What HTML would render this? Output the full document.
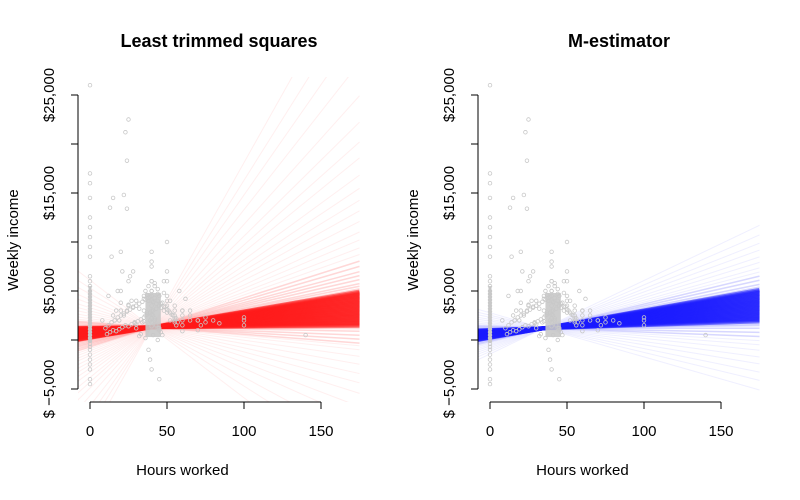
<!DOCTYPE html>
<html><head><meta charset="utf-8"><style>
body{margin:0;background:#fff}
svg{display:block;font-family:"Liberation Sans",sans-serif}
</style></head><body>
<svg id="c" width="800" height="500" viewBox="0 0 800 500">
<defs>
<clipPath id="clipL"><rect x="78" y="77" width="282" height="325"/></clipPath>
<clipPath id="clipR"><rect x="478" y="77" width="282" height="325"/></clipPath>
</defs>
<text x="219" y="47" text-anchor="middle" font-size="18" font-weight="bold">Least trimmed squares</text>
<text x="619" y="47" text-anchor="middle" font-size="18" font-weight="bold">M-estimator</text>
<g id="L"></g>
<g id="R"></g>
</svg>
<script>
const xTicks=[0,50,100,150];
const yTicks=[-5000,0,5000,10000,15000,20000,25000];
const yLabelTicks=[-5000,5000,15000,25000];
const yLabels=["$ −5,000","$5,000","$15,000","$25,000"];
const ptHours=[0,0,0,0,0,0,0,0,0,0,0,0,0,0,0,0,0,0,0,0,0,0,0,0,0,0,0,0,0,0,0,0,0,0,0,0,0,0,0,
25,23,24,15,22,24,20,28,14,21,25,18,17,16,22,27,12,30,26,19,13,24,29,20,
35,36,37,38,39,40,40,40,40,40,40,40,41,42,43,44,45,46,47,48,50,50,50,50,50,52,55,55,55,56,58,60,60,60,60,62,65,65,70,70,72,75,80,84,100,100,100,140,
38,39,40,45,48,41,44,36,33,30,32,34,42,46,50,55,52,60,42,44,40,40,40,40,40,45,30,35,
10,12,14,16,18,20,22,24,26,28,30,32,34,36,38,40,42,44,46,48,50,52,54,56,
11,13,15,17,19,21,23,25,27,29,31,33,35,37,39,41,43,45,47,49,51,53,55,57,
8,15,20,25,30,35,40,45,50,55,60,65,70,75,
20,25,28,32,36,38,40,42,44,48,35,37,39,41,43];
const ptIncome=[26000,17000,16000,14500,12500,11500,10500,9500,8500,6500,6000,5500,5000,4700,4400,4100,3800,3500,3200,2900,2600,2300,2000,1700,1400,1100,800,500,200,-100,-400,-700,-1000,-1500,-2000,-2500,-3000,-4000,-4500,
22500,21200,18300,14500,14800,13400,9000,7000,8500,7000,6000,5000,3000,2000,2500,4000,4500,3500,6500,2000,13500,3000,1800,5000,
3000,2500,2800,4000,2000,8000,9000,7500,6000,5000,4000,3500,2500,2000,1500,1200,1000,800,500,3000,10000,7000,6000,4500,3500,4000,3000,2500,2000,1500,5000,2000,2500,1500,3000,4200,2000,3000,1000,2000,1500,2300,2000,1700,2300,2000,1500,500,
-1000,-2000,-3000,-4000,6000,500,0,200,600,1200,400,1800,2200,3300,2800,1800,2000,900,5500,4700,3000,2600,2200,1800,1400,1200,1600,1900,
1200,1500,1800,2000,2300,2500,2700,2900,3100,3300,3500,3700,3900,4100,4300,4500,4300,4000,3700,3400,3100,2800,2500,2200,
600,800,1000,900,1100,1300,1500,1400,1600,1700,1900,2100,2300,2600,2800,3000,3200,3500,3800,3400,3000,2600,2200,1800,
2000,2500,3000,3500,4000,4500,5000,4500,4000,3500,3000,2500,2000,1800,
3800,3600,3400,3200,5000,5500,6000,5800,5200,4800,4200,4600,4400,3900,3700];
// LTS fit lines: pivot and slopes (income per hour)
const ltsPivot=[40,1300];
const ltsCoreSlopes=[1,2,3,4,5,6,7,8,9,10,11,12,13,14,15,16,17,18,19,20,21,22,23,24,25,26,27];
const ltsMidSlopes=[-12,-9,-6,-3,-1,29,31,33,36,39,42,46,50];
const ltsFaintSlopes=[-120,-100,-85,-70,-60,-50,-42,-35,-28,-22,-17,-14,55,60,66,72,80,88,96,105,115,128,140,155,175,200,225,250,280];
// M-estimator lines
const mPivot=[35,1200];
const mCoreSlopes=[5,6,7,8,9,10,11,12,13,14,15,16,17,18,19,20,21,22,23,24,25,26,27,28];
const mMidSlopes=[-6,-3,0,2,3,30,32,35,38];
const mFaintSlopes=[-45,-38,-32,-26,-21,-16,-12,-9,41,44,48,52,57,62,68,75];

function mk(tag,attrs,parent){const e=document.createElementNS("http://www.w3.org/2000/svg",tag);for(const k in attrs)e.setAttribute(k,attrs[k]);parent.appendChild(e);return e;}
function panel(gid,ox,clip,pivot,core,mid,faint,color,faintColor){
  const g=document.getElementById(gid);
  const xs=h=>ox+12+h*1.54, ys=v=>340-v*0.0098;
  const h0=-8,h1=175;
  const lg=mk("g",{"clip-path":"url(#"+clip+")"},g);
  
  
  const line=(s,col,op,w)=>{const l=mk("line",{x1:xs(h0),y1:ys(pivot[1]+s*(h0-pivot[0])),x2:xs(h1),y2:ys(pivot[1]+s*(h1-pivot[0])),stroke:col,"stroke-opacity":op,"stroke-width":w},lg);
    
    };
  faint.forEach(s=>line(s,faintColor,0.1,1));
  mid.forEach(s=>line(s,faintColor,0.25,1.5));
  core.forEach(s=>line(s,color,0.6,4));
  const pg=mk("g",{},g);
  
  
  ptHours.forEach((h,i)=>{const c=mk("circle",{cx:xs(h),cy:ys(ptIncome[i]),r:1.8,fill:"none",stroke:"#c8c8c8","stroke-width":0.8},pg);
    
    });
  const col=mk("rect",{x:xs(0)-1.5,y:ys(5500),width:3,height:ys(-300)-ys(5500),fill:"#c8c8c8"},pg);
  
  
  const cl=mk("rect",{x:xs(36),y:ys(4800),width:xs(46)-xs(36),height:ys(300)-ys(4800),fill:"#c8c8c8","fill-opacity":0.9},pg);
  
  
  // axes
  const ax=mk("g",{stroke:"#000","stroke-width":1},g);
  
  
  mk("line",{x1:ox,y1:ys(25000),x2:ox,y2:ys(-5000)},ax);
  yTicks.forEach(v=>mk("line",{x1:ox,y1:ys(v),x2:ox-7,y2:ys(v)},ax));
  mk("line",{x1:xs(0),y1:402,x2:xs(150),y2:402},ax);
  xTicks.forEach(h=>mk("line",{x1:xs(h),y1:402,x2:xs(h),y2:409},ax));
  xTicks.forEach(h=>{const t=mk("text",{x:xs(h),y:436,"text-anchor":"middle","font-size":15},g);t.textContent=h;
    
    });
  yLabelTicks.forEach((v,i)=>{const t=mk("text",{x:0,y:0,"text-anchor":"middle","font-size":15,transform:`translate(${ox-24},${ys(v)}) rotate(-90)`},g);t.textContent=yLabels[i];
    
    });
  const xt=mk("text",{x:xs(60),y:475,"text-anchor":"middle","font-size":15},g);xt.textContent="Hours worked";
  
  
  const yt=mk("text",{x:0,y:0,"text-anchor":"middle","font-size":15,transform:`translate(${ox-60},240) rotate(-90)`},g);yt.textContent="Weekly income";
  
  
}
panel("L",78,"clipL",ltsPivot,ltsCoreSlopes,ltsMidSlopes,ltsFaintSlopes,"#ff1a1a","#ff6060");
panel("R",478,"clipR",mPivot,mCoreSlopes,mMidSlopes,mFaintSlopes,"#1a1aff","#6060ff");
</script>
</body></html>
